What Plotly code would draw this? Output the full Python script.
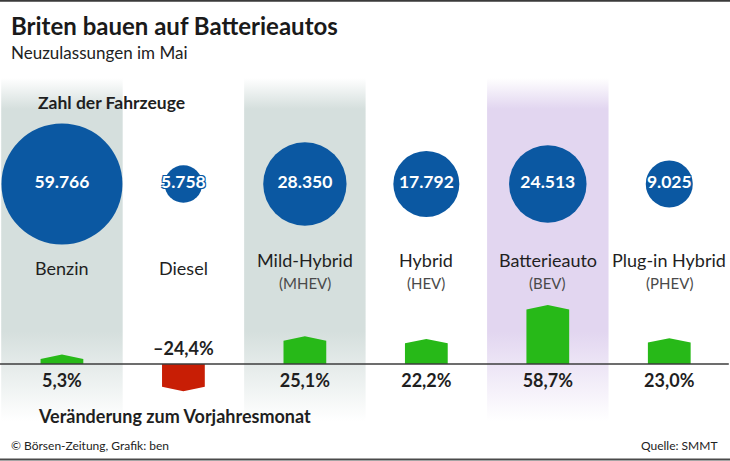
import plotly.graph_objects as go

# ---- data ----
categories = ["Benzin", "Diesel", "Mild-Hybrid", "Hybrid", "Batterieauto", "Plug-in Hybrid"]
subcategories = ["", "", "(MHEV)", "(HEV)", "(BEV)", "(PHEV)"]
registrations = [59766, 5758, 28350, 17792, 24513, 9025]
change_pct = [5.3, -24.4, 25.1, 22.2, 58.7, 23.0]
reg_labels = ["59.766", "5.758", "28.350", "17.792", "24.513", "9.025"]
pct_labels = ["5,3%", "\u201324,4%", "25,1%", "22,2%", "58,7%", "23,0%"]
band_colors = ["gray", None, "gray", None, "purple", None]

FONT = "Lato"
DARK = "#1f1f1f"
BLUE = "#0b58a2"
GREEN = "#27b918"
RED = "#c81e05"
GRAY_RGB = "213,223,221"
PURPLE_RGB = "226,214,240"

n = len(categories)
xc = [i + 0.5 for i in range(n)]

fig = go.Figure()

# background bands (primary y: pixel-like axis, reversed)
def band_trace(kind, rgb):
    xs, ys = [], []
    for i, b in enumerate(band_colors):
        if b == kind:
            xs += [i, i + 1, i + 1, i, i, None]
            ys += [78, 78, 421, 421, 78, None]
    return go.Scatter(
        x=xs, y=ys, mode="none", fill="toself",
        fillgradient=dict(
            type="vertical", start=78, stop=421,
            colorscale=[[0, f"rgba({rgb},0)"], [0.09, f"rgba({rgb},1)"],
                        [0.74, f"rgba({rgb},1)"], [1, f"rgba({rgb},0)"]],
        ),
        hoverinfo="skip", showlegend=False, yaxis="y",
    )

fig.add_trace(band_trace("gray", GRAY_RGB))
fig.add_trace(band_trace("purple", PURPLE_RGB))

# bubbles
max_d = 121
fig.add_trace(go.Scatter(
    x=xc, y=[184] * n, mode="markers+text",
    marker=dict(size=registrations, sizemode="area",
                sizeref=2.0 * max(registrations) / max_d ** 2,
                color=BLUE, opacity=1, line=dict(width=0)),
    text=reg_labels, textposition="middle center",
    textfont=dict(family=FONT, size=17.5, color="white", weight="bold",
                  shadow=f"1px 1px 0 {BLUE}, -1px -1px 0 {BLUE}, 1px -1px 0 {BLUE}, -1px 1px 0 {BLUE}"),
    hoverinfo="skip", showlegend=False, yaxis="y",
))

# bars with pointed tops (y2: percentage axis)
half_w = 0.176
cap = 4.8

def bar_poly(sel):
    xs, ys = [], []
    for i, v in enumerate(change_pct):
        if sel(v):
            s = 1 if v >= 0 else -1
            c = xc[i]
            xs += [c - half_w, c - half_w, c, c + half_w, c + half_w, c - half_w, None]
            ys += [0, v, v + s * cap, v, 0, 0, None]
    return xs, ys

px_, py_ = bar_poly(lambda v: v >= 0)
fig.add_trace(go.Scatter(x=px_, y=py_, mode="lines", fill="toself", fillcolor=GREEN,
                         line=dict(width=0, color=GREEN), hoverinfo="skip",
                         showlegend=False, yaxis="y2"))
nx_, ny_ = bar_poly(lambda v: v < 0)
fig.add_trace(go.Scatter(x=nx_, y=ny_, mode="lines", fill="toself", fillcolor=RED,
                         line=dict(width=0, color=RED), hoverinfo="skip",
                         showlegend=False, yaxis="y2"))

# baseline
fig.add_trace(go.Scatter(x=[-0.01, 5.99], y=[0, 0], mode="lines",
                         line=dict(color="#3c3c3c", width=1.6), hoverinfo="skip",
                         showlegend=False, yaxis="y2"))

# percentage labels
fig.add_trace(go.Scatter(
    x=xc, y=[-19.4 if v >= 0 else 15.0 for v in change_pct], mode="text",
    text=pct_labels, textposition="middle center",
    textfont=dict(family=FONT, size=18, color=DARK, weight="bold"),
    hoverinfo="skip", showlegend=False, yaxis="y2",
))

# category labels
ann = []
for i in range(n):
    if subcategories[i]:
        ann.append(dict(x=xc[i], y=260, xref="x", yref="y", text=categories[i],
                        showarrow=False, font=dict(family=FONT, size=18, color=DARK)))
        ann.append(dict(x=xc[i], y=283, xref="x", yref="y", text=subcategories[i],
                        showarrow=False, font=dict(family=FONT, size=15, color="#4a4a4a")))
    else:
        ann.append(dict(x=xc[i], y=268, xref="x", yref="y", text=categories[i],
                        showarrow=False, font=dict(family=FONT, size=18, color=DARK)))

def ptext(x, y, text, size, bold=False, color=DARK, xanchor="left"):
    return dict(x=x, y=y, xref="paper", yref="paper", text=text, showarrow=False,
                xanchor=xanchor, yanchor="middle",
                font=dict(family=FONT, size=size, color=color,
                          weight="bold" if bold else "normal"))

H = 461.0
W = 730.0
ann += [
    ptext(9 / W, 1 - 25 / H, "Briten bauen auf Batterieautos", 24, True, "#1a1a1a"),
    ptext(9 / W, 1 - 53 / H, "Neuzulassungen im Mai", 17, False, "#222"),
    ptext(36 / W, 1 - 102 / H, "Zahl der Fahrzeuge", 17.5, True, DARK),
    ptext(36 / W, 1 - 416 / H, "Ver\u00e4nderung zum Vorjahresmonat", 18, True, DARK),
    ptext(9 / W, 1 - 445 / H, "\u00a9 B\u00f6rsen-Zeitung, Grafik: ben", 12, False, "#222"),
    ptext(720 / W, 1 - 445 / H, "Quelle: SMMT", 12, False, "#222", xanchor="right"),
]

fig.update_layout(
    width=730, height=461,
    margin=dict(l=0, r=0, t=0, b=0),
    paper_bgcolor="white", plot_bgcolor="white",
    xaxis=dict(range=[-0.01, 6.0], visible=False, fixedrange=True),
    yaxis=dict(range=[461, 0], visible=False, fixedrange=True),
    yaxis2=dict(range=[-104.3, 391.4], visible=False, overlaying="y", fixedrange=True),
    annotations=ann,
    shapes=[
        dict(type="line", xref="paper", yref="paper", x0=0, x1=1, y0=1 - 0.8 / H, y1=1 - 0.8 / H,
             line=dict(color="#3a3a3a", width=2)),
        dict(type="line", xref="paper", yref="paper", x0=0, x1=1, y0=1 - 459.5 / H, y1=1 - 459.5 / H,
             line=dict(color="#4a4a4a", width=2)),
    ],
    showlegend=False,
)

fig.write_html(
    "out.html",
    config={"displayModeBar": False},
    post_script="document.body.style.margin='0';document.body.style.padding='0';"
                "document.documentElement.style.overflow='hidden';",
)
